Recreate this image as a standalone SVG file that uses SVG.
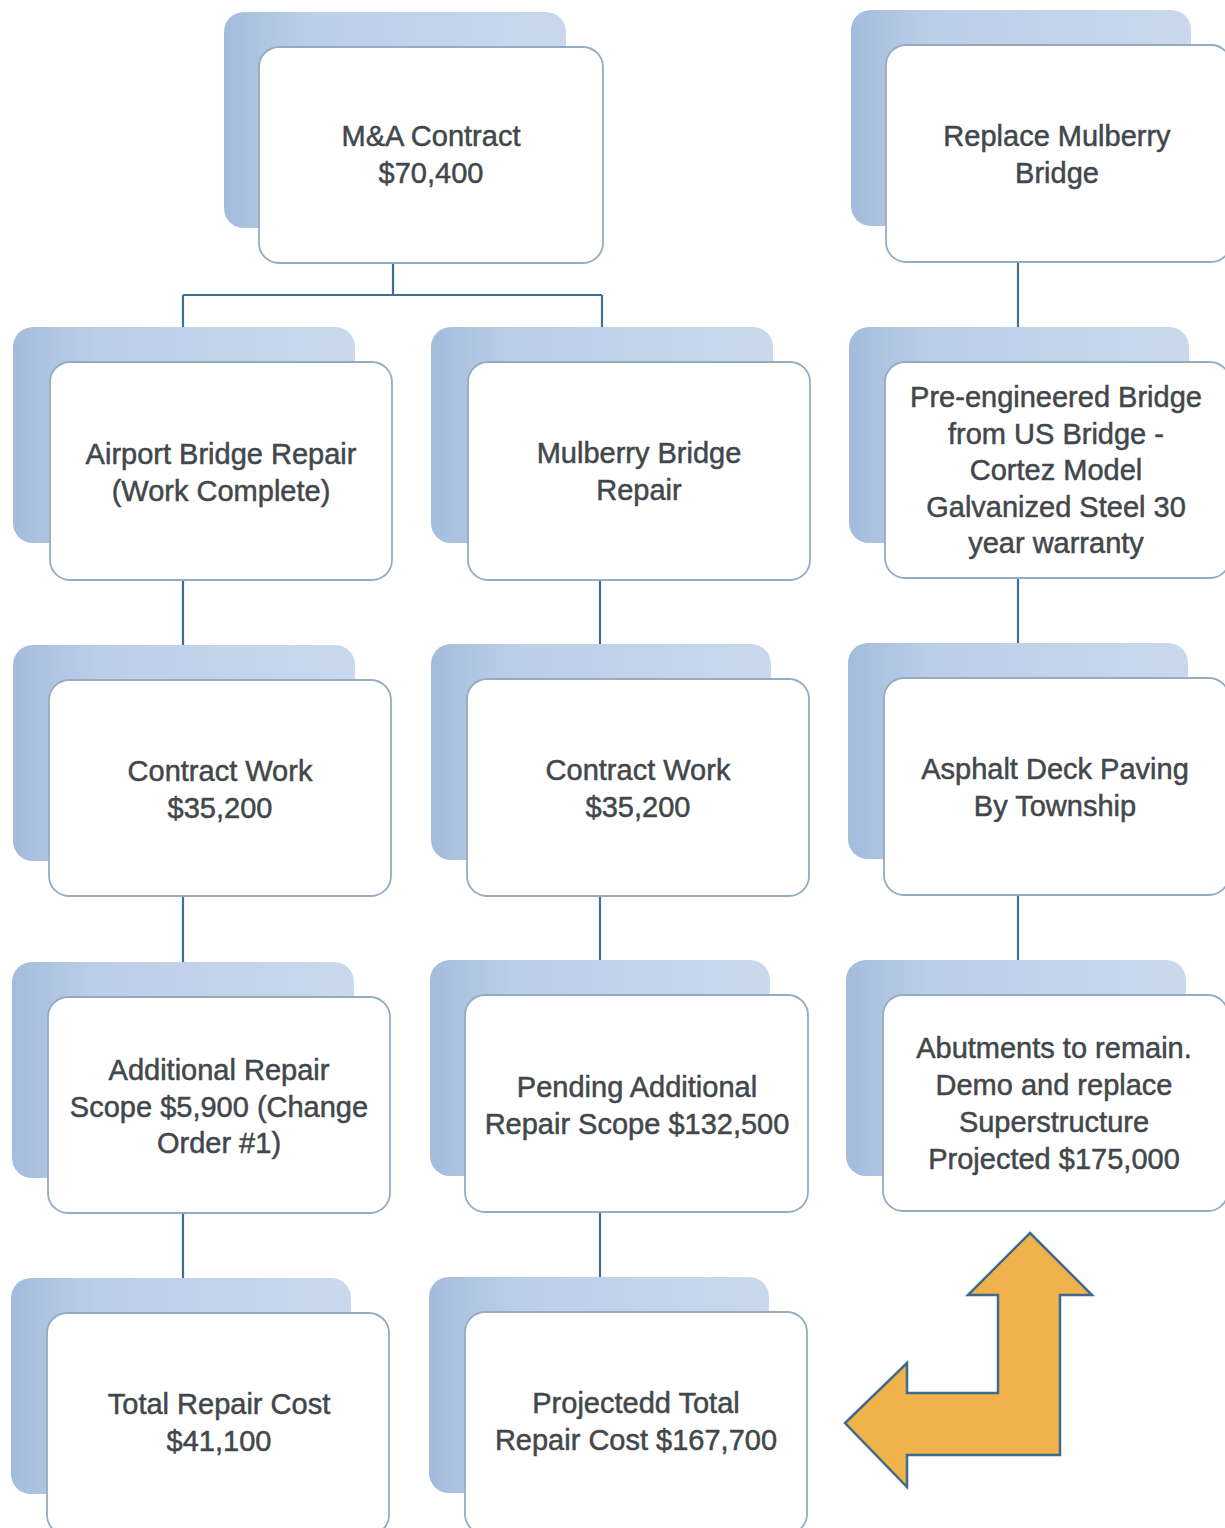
<svg xmlns="http://www.w3.org/2000/svg" width="1225" height="1528" viewBox="0 0 1225 1528">
<defs>
<linearGradient id="bk" x1="0" y1="0" x2="1" y2="0">
<stop offset="0" stop-color="#a3bcdc"/>
<stop offset="0.25" stop-color="#bccfe8"/>
<stop offset="1" stop-color="#c9d8ec"/>
</linearGradient>
<style>
.back{fill:url(#bk);stroke:none}
.front{fill:#ffffff;stroke:#94abc2;stroke-width:1.8}
.t{font-family:"Liberation Sans",Arial,sans-serif;font-size:29px;fill:#41474b;stroke:#41474b;stroke-width:0.5;text-anchor:middle}
.c{fill:none;stroke:#3f6f96;stroke-width:2.2}
</style>
</defs>
<rect width="1225" height="1528" fill="#ffffff"/>
<g id="connectors">
<path class="c" d="M393 263 V295 M183 295 H602 M183 295 V328 M602 295 V328"/>
<path class="c" d="M183 580 V645 M183 896 V962 M183 1213 V1279"/>
<path class="c" d="M600 580 V644 M600 896 V960 M600 1213 V1278"/>
<path class="c" d="M1018 262 V327 M1018 578 V643 M1018 895 V960"/>
</g>
<g id="n-ma">
<rect class="back" x="224" y="12" width="342" height="216" rx="20"/>
<rect class="front" x="259" y="47" width="344" height="216" rx="20"/>
<text class="t" x="431" y="146">M&amp;A Contract</text>
<text class="t" x="431" y="183">$70,400</text>
</g>
<g id="n-replace">
<rect class="back" x="851" y="10" width="340" height="216" rx="20"/>
<rect class="front" x="886" y="45" width="345" height="217" rx="20"/>
<text class="t" x="1057" y="146">Replace Mulberry</text>
<text class="t" x="1057" y="183">Bridge</text>
</g>
<g id="n-airport">
<rect class="back" x="13" y="327" width="342" height="216" rx="20"/>
<rect class="front" x="50" y="362" width="342" height="218" rx="20"/>
<text class="t" x="221" y="464">Airport Bridge Repair</text>
<text class="t" x="221" y="501">(Work Complete)</text>
</g>
<g id="n-mulberry">
<rect class="back" x="431" y="327" width="342" height="216" rx="20"/>
<rect class="front" x="468" y="362" width="342" height="218" rx="20"/>
<text class="t" x="639" y="463">Mulberry Bridge</text>
<text class="t" x="639" y="500">Repair</text>
</g>
<g id="n-preeng">
<rect class="back" x="849" y="327" width="340" height="216" rx="20"/>
<rect class="front" x="885" y="362" width="345" height="216" rx="20"/>
<text class="t" x="1056" y="407">Pre-engineered Bridge</text>
<text class="t" x="1056" y="444">from US Bridge -</text>
<text class="t" x="1056" y="480">Cortez Model</text>
<text class="t" x="1056" y="517">Galvanized Steel 30</text>
<text class="t" x="1056" y="553">year warranty</text>
</g>
<g id="n-contract-l">
<rect class="back" x="13" y="645" width="342" height="216" rx="20"/>
<rect class="front" x="49" y="680" width="342" height="216" rx="20"/>
<text class="t" x="220" y="781">Contract Work</text>
<text class="t" x="220" y="818">$35,200</text>
</g>
<g id="n-contract-m">
<rect class="back" x="431" y="644" width="340" height="216" rx="20"/>
<rect class="front" x="467" y="679" width="342" height="217" rx="20"/>
<text class="t" x="638" y="780">Contract Work</text>
<text class="t" x="638" y="817">$35,200</text>
</g>
<g id="n-asphalt">
<rect class="back" x="848" y="643" width="340" height="216" rx="20"/>
<rect class="front" x="884" y="678" width="345" height="217" rx="20"/>
<text class="t" x="1055" y="779">Asphalt Deck Paving</text>
<text class="t" x="1055" y="816">By Township</text>
</g>
<g id="n-additional">
<rect class="back" x="12" y="962" width="342" height="216" rx="20"/>
<rect class="front" x="48" y="997" width="342" height="216" rx="20"/>
<text class="t" x="219" y="1080">Additional Repair</text>
<text class="t" x="219" y="1117">Scope $5,900 (Change</text>
<text class="t" x="219" y="1153">Order #1)</text>
</g>
<g id="n-pending">
<rect class="back" x="430" y="960" width="340" height="216" rx="20"/>
<rect class="front" x="465" y="995" width="343" height="217" rx="20"/>
<text class="t" x="637" y="1097">Pending Additional</text>
<text class="t" x="637" y="1134">Repair Scope $132,500</text>
</g>
<g id="n-abutments">
<rect class="back" x="846" y="960" width="340" height="216" rx="20"/>
<rect class="front" x="883" y="995" width="345" height="216" rx="20"/>
<text class="t" x="1054" y="1058">Abutments to remain.</text>
<text class="t" x="1054" y="1095">Demo and replace</text>
<text class="t" x="1054" y="1132">Superstructure</text>
<text class="t" x="1054" y="1169">Projected $175,000</text>
</g>
<g id="n-total">
<rect class="back" x="11" y="1278" width="340" height="216" rx="20"/>
<rect class="front" x="47" y="1313" width="342" height="222" rx="20"/>
<text class="t" x="219" y="1414">Total Repair Cost</text>
<text class="t" x="219" y="1451">$41,100</text>
</g>
<g id="n-projected">
<rect class="back" x="429" y="1277" width="340" height="216" rx="20"/>
<rect class="front" x="465" y="1312" width="342" height="222" rx="20"/>
<text class="t" x="636" y="1413">Projectedd Total</text>
<text class="t" x="636" y="1450">Repair Cost $167,700</text>
</g>
<g id="bent-arrow">
<path d="M1030 1233 L1092 1295 L1060 1295 L1060 1455 L907 1455 L907 1487 L845 1423 L907 1363 L907 1393 L998 1393 L998 1295 L968 1295 Z" fill="#f0b24a" stroke="#3d6a8e" stroke-width="2.5" stroke-linejoin="miter"/>
</g>
</svg>
